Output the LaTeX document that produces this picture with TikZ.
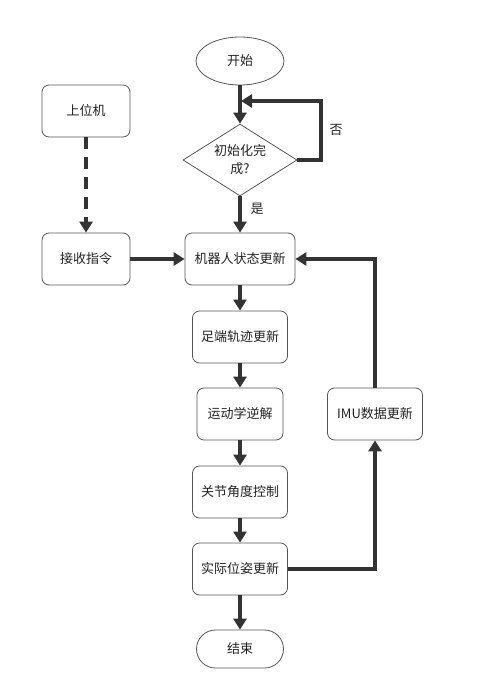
\documentclass[tikz,border=0pt]{standalone}
\usepackage{fontspec}
\newfontfamily\cjk{Noto Sans CJK SC}
\usetikzlibrary{shapes.geometric,arrows.meta}
\definecolor{ln}{HTML}{333333}
\definecolor{bd}{HTML}{555555}
\definecolor{tx}{HTML}{222222}
\begin{document}
\begin{tikzpicture}[x=1pt,y=-1pt,
  every node/.style={font=\cjk\fontsize{13}{18}\selectfont, text=tx},
  procbox/.style={draw=bd, line width=0.8pt, rounded corners=7pt, minimum height=52pt, inner sep=0pt, fill=white},
  termbox/.style={draw=bd, line width=0.8pt, rounded corners=19pt, minimum height=38pt, minimum width=87pt, inner sep=0pt, fill=white},
  startell/.style={draw=bd, line width=0.8pt, ellipse, minimum width=88pt, minimum height=48pt, inner sep=0pt, fill=white},
  decis/.style={draw=bd, line width=0.8pt, diamond, aspect=1.58, minimum width=114pt, minimum height=72pt, inner sep=0pt, align=center, fill=white},
  flow/.style={draw=ln, line width=3.2pt, -{Triangle[length=11pt,width=13pt]}},
  dflow/.style={flow, dash pattern=on 12pt off 8pt},
  lbl/.style={font=\cjk\fontsize{13}{16}\selectfont}
]
\useasboundingbox (0,0) rectangle (487,687);

\node[startell] (start) at (240,61) {开始};
\node[decis] (init) at (240,160) {初始化完\\成?};
\node[procbox, minimum width=110pt] (state) at (240,259) {机器人状态更新};
\node[procbox, minimum width=95pt] (foot) at (240,337) {足端轨迹更新};
\node[procbox, minimum width=86pt] (ik) at (240,414) {运动学逆解};
\node[procbox, minimum width=95pt] (joint) at (240,492) {关节角度控制};
\node[procbox, minimum width=95pt] (pose) at (240,569) {实际位姿更新};
\node[termbox] (end) at (240,649) {结束};
\node[procbox, minimum width=95pt] (imu) at (375,414) {IMU数据更新};
\node[procbox, minimum width=88pt] (host) at (86,111) {上位机};
\node[procbox, minimum width=88pt] (recv) at (86,259) {接收指令};

\coordinate (loopend) at (241,101);

\draw[flow] (start) -- (init);
\draw[flow] (init.east) -- (321,160) -- (321,101) -- (loopend);
\node[lbl] (no) at (336,130) {否};
\draw[flow] (init) -- (state);
\node[lbl] (yes) at (257,209) {是};
\draw[flow] (state) -- (foot);
\draw[flow] (foot) -- (ik);
\draw[flow] (ik) -- (joint);
\draw[flow] (joint) -- (pose);
\draw[flow] (pose) -- (end);
\draw[flow] (pose.east) -| (imu.south);
\draw[flow] (imu.north) |- (state.east);
\draw[dflow] (host) -- (recv);
\draw[flow] (recv) -- (state);
\end{tikzpicture}
\end{document}
